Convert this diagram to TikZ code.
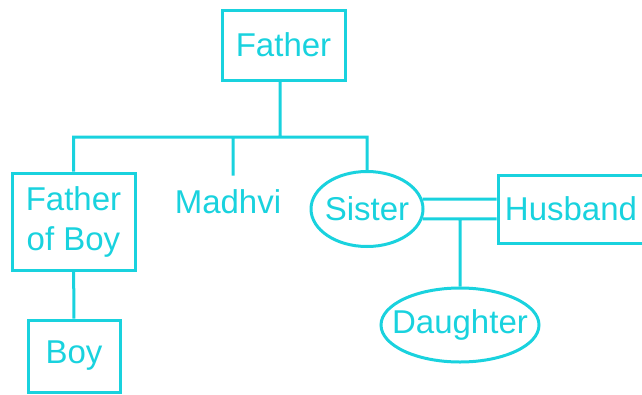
\documentclass[tikz,border=0pt]{standalone}
\usepackage{fontspec}
\setmainfont{Liberation Sans}
\usepackage{tikz}
\usetikzlibrary{shapes.geometric}
\definecolor{cy}{RGB}{25,210,222}
\tikzstyle{lbl}=[text=cy,font=\fontsize{33}{40}\selectfont,inner sep=0pt,align=center]
\tikzstyle{box}=[lbl,draw=cy,line width=3pt]
\tikzstyle{oval}=[box,ellipse]
\tikzstyle{link}=[draw=cy,line width=3pt]

\begin{document}
\begin{tikzpicture}[x=1pt,y=-1pt]
\useasboundingbox (0,0) rectangle (642,394);

\node[box,minimum width=123pt,minimum height=70pt] (f) at (283.5,45) {Father};

\node[box,minimum width=123pt,minimum height=97pt] (fb) at (73.5,221.5) {Father\\of Boy};
\node[lbl,inner sep=14pt] (m) at (228,202) {Madhvi};
\node[oval,minimum width=112pt,minimum height=75pt] (s) at (367,209) {\makebox[0pt]{Sister}};
\node[box,minimum width=146pt,minimum height=68pt] (h) at (571,209) {Husband};

\node[box,minimum width=92pt,minimum height=72pt] (b) at (74,356) {Boy};
\node[oval,minimum width=158pt,minimum height=74pt] (d) at (460,325) {\makebox[0pt]{Daughter}};

\coordinate (j) at (280,137);
\coordinate (mj) at (233,137);

\draw[link]

(j |- f.south) -- (j)
(fb) |- (j) -| (s)
(mj) -- (mj |- m.north)

(fb) -- (b)

(s.10) -- (s.10 -| h.west)
(s.-10) -- (s.-10 -| h.west)

(d |- s.-10) -- (d)
;

\end{tikzpicture}
\end{document}
